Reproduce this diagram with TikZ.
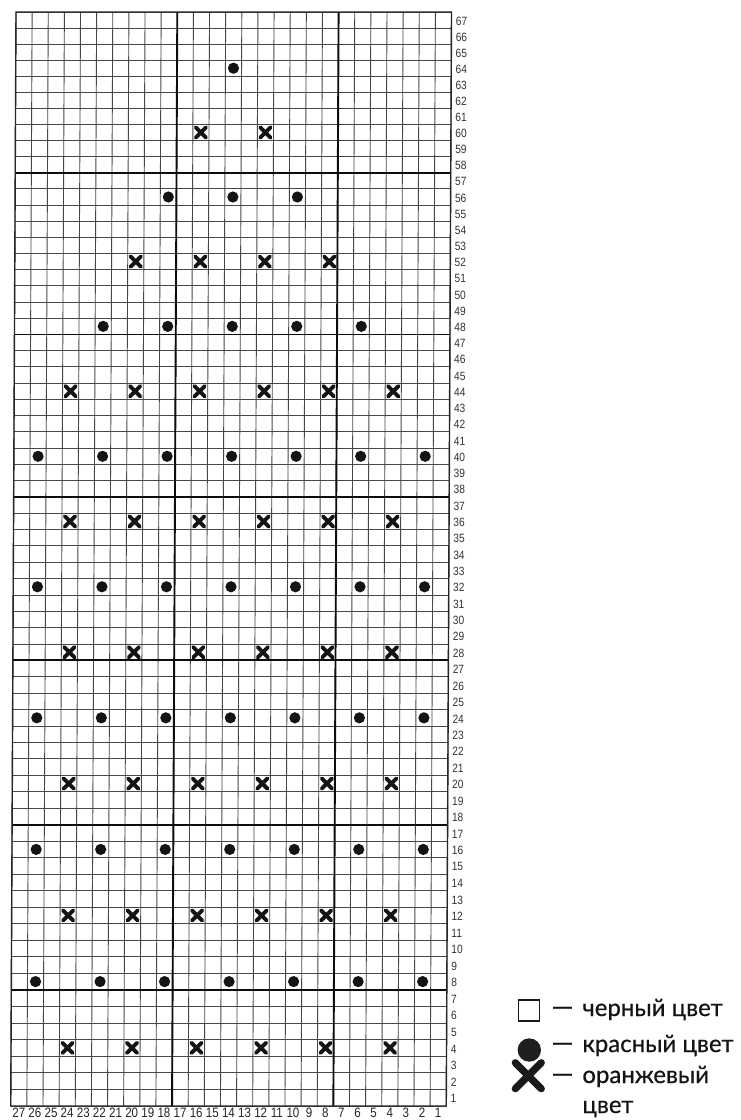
\documentclass[tikz,border=0pt]{standalone}
\usepackage{fontspec}
\setmainfont{Lato}
\newfontfamily\legfont[FakeBold=0.6]{Lato}
\newfontfamily\numfont[FakeStretch=0.85]{Liberation Sans}
\usetikzlibrary{shapes.misc}
\begin{document}
\begin{tikzpicture}[x=0.5pt,y=-0.5pt,
  declare function={rowy(\k)=12+16.036*\k+0.00436*\k*\k; colx(\j)=16.06+16.13*\j;},
  gridthin/.style={draw=black!72, line width=0.45pt},
  gridthick/.style={draw=black!95, line width=0.95pt},
  gridborder/.style={draw=black!85, line width=0.7pt},
  dotmark/.style={circle, fill=black!92, minimum size=5.6pt, inner sep=0pt},
  crossmark/.style={cross out, draw=black!92, line width=1.95pt, line cap=round, minimum size=3.2pt, inner sep=0pt},
  rowlab/.style={font=\numfont\fontsize{6}{7}\selectfont, text=black!80, inner sep=0pt, anchor=west},
  collab/.style={font=\numfont\fontsize{6.8}{8}\selectfont, text=black!85, inner sep=0pt},
  legtext/.style={font=\legfont\fontsize{12}{14}\selectfont, text=black!92, inner sep=0pt, anchor=base west}
]
\fill[white] (0,0) rectangle (740,1120);
\useasboundingbox (0,0) rectangle (740,1120);
\begin{scope}[xslant=0.0048]
  % thin grid
  \foreach \k in {0,...,67}
    \draw[gridthin] ({colx(0)},{rowy(\k)}) -- ({colx(27)},{rowy(\k)});
  \foreach \j in {0,...,27}
    \draw[gridthin] ({colx(\j)},{rowy(0)}) -- ({colx(\j)},{rowy(67)});
  % thick lines
  \foreach \k in {10,20,30,40,50,60}
    \draw[gridthick] ({colx(0)},{rowy(\k)}) -- ({colx(27)},{rowy(\k)});
  \foreach \j in {10,20}
    \draw[gridthick] ({colx(\j)},{rowy(0)}) -- ({colx(\j)},{rowy(67)});
  \draw[gridborder] ({colx(0)},{rowy(0)}) rectangle ({colx(27)},{rowy(67)});
  % row numbers
  \foreach \r in {1,...,67}
    \node[rowlab] (r\r) at ({colx(27)+4},{rowy(67-\r+0.5)+1}) {\r};
  % column numbers
  \foreach \c in {1,...,27}
    \node[collab] (c\c) at ({colx(27-\c+0.5)},1113) {\c};
  % dots
  \foreach \r/\cols in {64/{14}, 56/{18,14,10}, 48/{22,18,14,10,6},
      40/{26,22,18,14,10,6,2}, 32/{26,22,18,14,10,6,2}, 24/{26,22,18,14,10,6,2},
      16/{26,22,18,14,10,6,2}, 8/{26,22,18,14,10,6,2}}
    \foreach \c in \cols
      \node[dotmark] (d\r-\c) at ({colx(27-\c+0.5)},{rowy(67-\r+0.5)}) {};
  % crosses
  \foreach \r/\cols in {60/{16,12}, 52/{20,16,12,8},
      44/{24,20,16,12,8,4}, 36/{24,20,16,12,8,4}, 28/{24,20,16,12,8,4},
      20/{24,20,16,12,8,4}, 12/{24,20,16,12,8,4}, 4/{24,20,16,12,8,4}}
    \foreach \c in \cols
      \node[crossmark] (x\r-\c) at ({colx(27-\c+0.5)},{rowy(67-\r+0.5)}) {};
\end{scope}
% legend
\node[draw=black!90, line width=0.75pt, minimum size=10.5pt, inner sep=0pt] (lsq) at (529,1010.5) {};
\node[circle, fill=black!88, minimum size=11.7pt, inner sep=0pt] (lci) at (529.3,1050) {};
\node[cross out, draw=black!90, line width=3.6pt, line cap=round, minimum size=9.4pt, inner sep=0pt] (lx) at (528.3,1075.7) {};
\node[legtext] (ld1) at (551,1016) {\fontsize{14}{14}\selectfont —};
\node[legtext] (lt1) at (582,1016) {черный цвет};
\node[legtext] (ld2) at (551,1052) {\fontsize{14}{14}\selectfont —};
\node[legtext] (lt2) at (582,1052) {красный цвет};
\node[legtext] (ld3) at (551,1083) {\fontsize{14}{14}\selectfont —};
\node[legtext] (lt3) at (582,1083) {оранжевый};
\node[legtext] (lt4) at (582,1113) {цвет};
\end{tikzpicture}
\end{document}
